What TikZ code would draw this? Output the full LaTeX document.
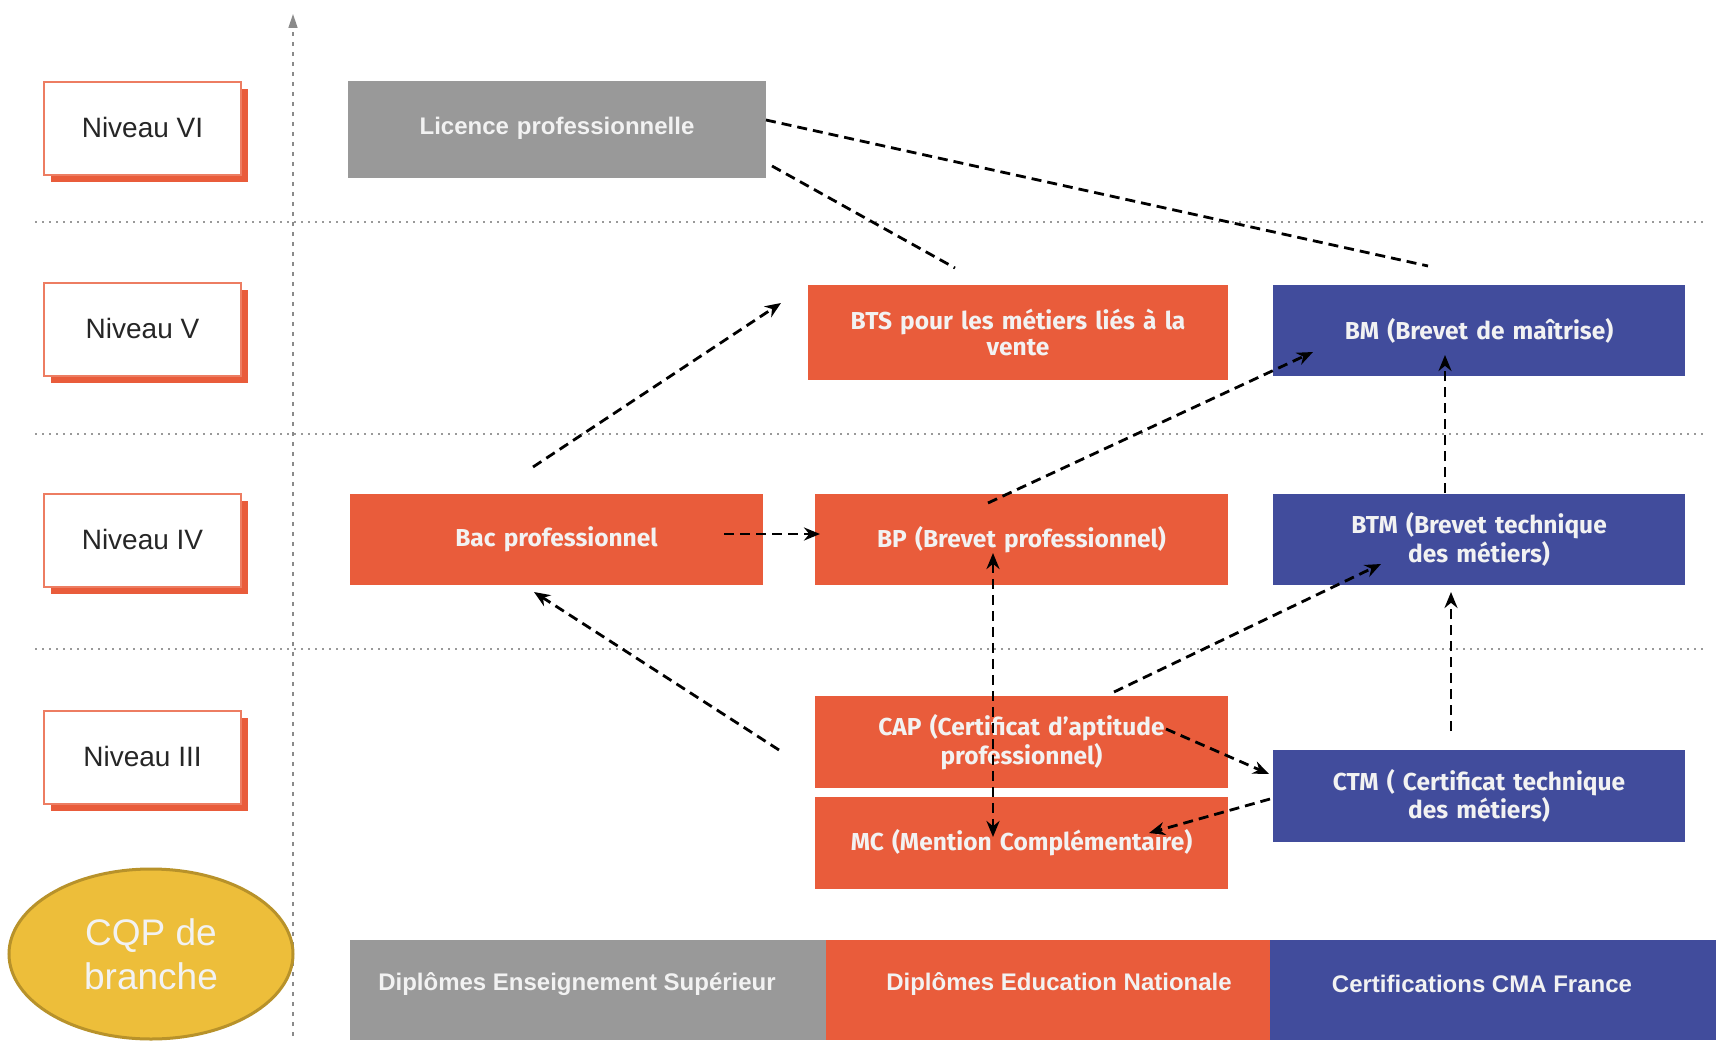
\documentclass[tikz,border=0pt]{standalone}
\usepackage{fontspec}
\setmainfont{Liberation Sans}
\newfontfamily\fira{Fira Sans}
\usetikzlibrary{arrows.meta,shapes.geometric}
\definecolor{orng}{HTML}{E95C3B}
\definecolor{navy}{HTML}{414C9C}
\definecolor{gry}{HTML}{999999}
\definecolor{gold}{HTML}{EDBE3A}
\definecolor{goldd}{HTML}{B8922A}
\definecolor{txtw}{HTML}{F2F2F2}
\tikzset{
  x=1pt,y=-1pt,
  levelbox/.style={draw=orng!80,line width=1.2pt,fill=white,minimum width=197pt,minimum height=93pt,
    font=\fontsize{28}{32}\selectfont,text=black!85},
  shadowbox/.style={fill=orng,minimum width=197pt,minimum height=93pt},
  dipl/.style={minimum width=413pt,minimum height=91pt,text=txtw,align=center,
    font=\fira\bfseries\fontsize{24.5}{28.5}\selectfont,inner sep=0pt,text width=400pt},
  orangebox/.style={dipl,fill=orng},
  bluebox/.style={dipl,fill=navy},
  greybox/.style={dipl,fill=gry,font=\bfseries\fontsize{24}{28}\selectfont},
  link/.style={draw=black,line width=2.8pt,dash pattern=on 10pt off 6pt},
  tipx/.style={Stealth[length=16pt,width=13pt]},
  arr/.style={link,-{Stealth[length=16pt,width=13pt]}},
  grid/.style={draw=gry,line width=2pt,dash pattern=on 1.5pt off 5.5pt},
  legend/.style={minimum height=100pt,inner sep=0pt},
  legtext/.style={text=txtw,font=\bfseries\fontsize{24}{28}\selectfont,inner sep=0pt},
}
\begin{document}
\begin{tikzpicture}
\useasboundingbox (0,0) rectangle (1716,1046);
\fill[white] (0,0) rectangle (1716,1046);

% grid lines
\coordinate (g1a) at (35,222); \coordinate (g1b) at (1705,222);
\coordinate (g2a) at (35,434); \coordinate (g2b) at (1705,434);
\coordinate (g3a) at (35,649); \coordinate (g3b) at (1705,649);
\draw[grid] (g1a) -- (g1b);
\draw[grid] (g2a) -- (g2b);
\draw[grid] (g3a) -- (g3b);
\coordinate (axb) at (293,1036); \coordinate (axt) at (293,14);
\draw[draw=gry!90!black,line width=1.5pt,dash pattern=on 4pt off 6pt,-{Triangle[length=14pt,width=9pt]}] (axb) -- (axt);

% level boxes
\foreach \nm/\yy/\tx in {n6/128.5/Niveau VI, n5/329.5/Niveau V, n4/540.5/Niveau IV, n3/757.5/Niveau III}{
  \node[shadowbox] (\nm s) at (149.5,\yy+7) {};
  \node[levelbox] (\nm) at (142.5,\yy) {\raisebox{2pt}{\tx}};
}

% diplomas
\node[greybox,minimum width=418pt,minimum height=97pt] (lic) at (557,129.5) {\raisebox{8pt}{Licence professionnelle}};
\node[orangebox,minimum width=420pt,minimum height=95pt,font=\fira\bfseries\fontsize{24.5}{25.5}\selectfont] (bts) at (1018,332.5) {BTS pour les métiers liés à la\\vente};
\node[bluebox,minimum width=412pt] (bm) at (1479,330.5) {BM (Brevet de maîtrise)};
\node[orangebox] (bac) at (556.5,539.5) {Bac professionnel};
\node[orangebox] (bp) at (1021.5,539.5) {BP (Brevet professionnel)};
\node[bluebox,minimum width=412pt] (btm) at (1479,539.5) {\raisebox{4pt}{\parbox{400pt}{\centering BTM (Brevet technique\\des métiers)}}};
\node[orangebox,minimum height=92pt] (cap) at (1021.5,742) {\raisebox{6pt}{\parbox{400pt}{\centering CAP (Certificat d’aptitude\\professionnel)}}};
\node[orangebox,minimum height=92pt] (mc) at (1021.5,843) {\raisebox{5pt}{MC (Mention Complémentaire)}};
\node[bluebox,minimum width=412pt,minimum height=92pt] (ctm) at (1479,796) {\raisebox{4pt}{\parbox{400pt}{\centering CTM ( Certificat technique\\des métiers)}}};

% CQP ellipse
\node[ellipse,fill=gold,draw=goldd,line width=3pt,minimum width=284pt,minimum height=170pt,
  text=txtw,align=center,font=\fontsize{37}{44}\selectfont] (cqp) at (151,954) {CQP de\\branche};

% legend
\node[legend,fill=gry,minimum width=477pt] (lg1) at (588,990) {};
\node[legend,fill=orng,minimum width=444pt] (lg2) at (1048,990) {};
\node[legend,fill=navy,minimum width=446pt] (lg3) at (1493,990) {};
\node[legtext] (lt1) at (577,984) {Diplômes Enseignement Supérieur};
\node[legtext] (lt2) at (1059,984) {Diplômes Education Nationale};
\node[legtext] (lt3) at (1482,984) {Certifications CMA France};

% connectors
\coordinate (c1a) at (766,120); \coordinate (c1b) at (1428,266);
\draw[link] (c1a) -- (c1b);
\coordinate (c2a) at (772,166); \coordinate (c2b) at (955,268);
\draw[link] (c2a) -- (c2b);
\coordinate (c3a) at (533,467); \coordinate (c3b) at (781,303);
\draw[arr] (c3a) -- (c3b);
\coordinate (c4a) at (988,503); \coordinate (c4b) at (1313,352);
\draw[arr] (c4a) -- (c4b);
\coordinate (c5a) at (1445,493); \coordinate (c5b) at (1445,355);
\draw[arr] (c5a) -- (c5b);
\coordinate (c6a) at (724,534); \coordinate (c6b) at (820,534);
\draw[arr] (c6a) -- (c6b);
\coordinate (c7a) at (779,750); \coordinate (c7b) at (534,592);
\draw[arr] (c7a) -- (c7b);
\coordinate (c8a) at (993,553); \coordinate (c8b) at (993,837);
\draw[link,{Stealth[length=16pt,width=13pt]}-{Stealth[length=16pt,width=13pt]}] (c8a) -- (c8b);
\coordinate (c9a) at (1114,692); \coordinate (c9b) at (1381,564);
\draw[arr] (c9a) -- (c9b);
\coordinate (c10a) at (1451,731); \coordinate (c10b) at (1451,592);
\draw[arr] (c10a) -- (c10b);
\coordinate (c11a) at (1166,729); \coordinate (c11b) at (1269,774);
\draw[arr] (c11a) -- (c11b);
\coordinate (c12a) at (1270,799); \coordinate (c12b) at (1149,833);
\draw[arr] (c12a) -- (c12b);
\end{tikzpicture}
\end{document}
